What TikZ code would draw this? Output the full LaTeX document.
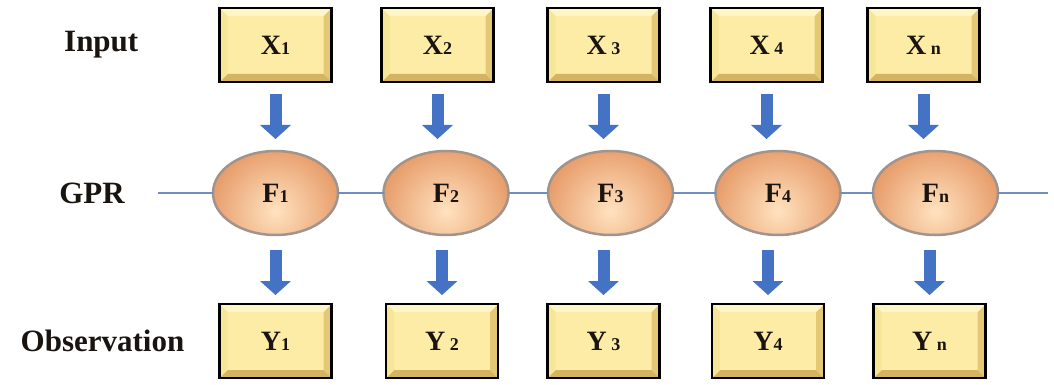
\documentclass[tikz,border=0pt]{standalone}
\usepackage{fontspec}
\setmainfont{Liberation Serif}
\usepackage{tikz}
\usetikzlibrary{shapes,arrows.meta,positioning}
\definecolor{boxyellow}{RGB}{252,236,166}
\definecolor{bevtop}{RGB}{255,246,200}
\definecolor{bevleft}{RGB}{247,229,152}
\definecolor{bevright}{RGB}{228,200,118}
\definecolor{bevlow}{RGB}{212,180,98}
\definecolor{peach}{RGB}{232,158,108}
\definecolor{peachlight}{RGB}{255,226,192}
\definecolor{rimgray}{RGB}{160,148,140}
\definecolor{arrowblue}{RGB}{68,114,196}
\definecolor{lineblue}{RGB}{112,142,192}
\definecolor{inktext}{RGB}{25,20,15}
\newcommand{\subi}[1]{{\fontsize{18}{18}\selectfont #1}}
\tikzset{block/.style = {draw, rectangle, line width = 2.5pt, fill = boxyellow, outer sep = 0pt,
           minimum width = 112pt, minimum height = 74pt, text = inktext,
           font = \fontsize{28}{28}\selectfont\bfseries,
           path picture = {
             \coordinate (bsw) at (path picture bounding box.south west);
             \coordinate (bse) at (path picture bounding box.south east);
             \coordinate (bnw) at (path picture bounding box.north west);
             \coordinate (bne) at (path picture bounding box.north east);
             \fill[bevlow] (bsw) -- (bse) -- ([shift={(-8pt,8pt)}]bse) -- ([shift={(8pt,8pt)}]bsw) -- cycle;
             \fill[bevright] (bse) -- (bne) -- ([shift={(-8pt,-8pt)}]bne) -- ([shift={(-8pt,8pt)}]bse) -- cycle;
             \fill[bevtop] (bne) -- (bnw) -- ([shift={(8pt,-8pt)}]bnw) -- ([shift={(-8pt,-8pt)}]bne) -- cycle;
             \fill[bevleft] (bnw) -- (bsw) -- ([shift={(8pt,8pt)}]bsw) -- ([shift={(8pt,-8pt)}]bnw) -- cycle;
           }},
         gp/.style = {ellipse, draw = rimgray, line width = 2.5pt, fill = peach, outer sep = 0pt,
           minimum width = 125pt, minimum height = 84pt, text = inktext,
           font = \fontsize{28}{28}\selectfont\bfseries,
           path picture = {
             \shade[inner color = peachlight, outer color = peach]
               ([yshift=-18pt]path picture bounding box.center) circle (64pt);
           }},
         rowname/.style = {inner sep = 0pt, text = inktext, font = \fontsize{31}{31}\selectfont\bfseries},
         downarrow/.style = {draw = arrowblue, line width = 12pt,
           -{Triangle[width = 31pt, length = 14pt, line width = 0pt]}},
         gprline/.style = {draw = lineblue, line width = 1.3pt},
}
\begin{document}
\begin{tikzpicture}[x = 1pt, y = -1pt]

  \useasboundingbox (0,0) rectangle (1054,385);

  % input row
  \node[block] (x1) at (275.5,45) {X\subi{1}};
  \node[block, right = 50pt of x1] (x2) {X\subi{2}};
  \node[block, right = 54pt of x2] (x3) {X\,\subi{3}};
  \node[block, right = 51pt of x3] (x4) {X\,\subi{4}};
  \node[block, right = 45pt of x4] (xn) {X\,\subi{n}};
  \node[rowname, left = 81pt of x1] (in) {Input};

  % gaussian process row
  \node[gp, below = 69pt of x1] (f1) {F\subi{1}};
  \node[gp, right = 45.5pt of f1] (f2) {F\subi{2}};
  \node[gp, right = 39.5pt of f2] (f3) {F\subi{3}};
  \node[gp, right = 42.5pt of f3] (f4) {F\subi{4}};
  \node[gp, right = 32.5pt of f4] (fn) {F\subi{n}};
  \node[rowname, left = 88pt of f1] (gpr) {GPR};
  \coordinate[left = 55pt of f1] (gstart);
  \coordinate[right = 50pt of fn] (gend);

  % observation row
  \node[block, below = 69pt of f1] (y1) {Y\subi{1}};
  \node[block, right = 54.5pt of y1] (y2) {Y\,\subi{2}};
  \node[block, right = 49.5pt of y2] (y3) {Y\,\subi{3}};
  \node[block, right = 52.5pt of y3] (y4) {Y\subi{4}};
  \node[block, right = 49.5pt of y4] (yn) {Y\,\subi{n}};
  \node[rowname, left = 35pt of y1] (obs) {Observation};

  \draw[gprline] (gstart) -- (f1) -- (f2) -- (f3) -- (f4) -- (fn) -- (gend);

  \draw[downarrow, shorten <= 12pt, shorten >= 12pt] (x1.south) -- (x1.south |- f1.north);
  \draw[downarrow, shorten <= 12pt, shorten >= 12pt] (x2.south) -- (x2.south |- f2.north);
  \draw[downarrow, shorten <= 12pt, shorten >= 12pt] (x3.south) -- (x3.south |- f3.north);
  \draw[downarrow, shorten <= 12pt, shorten >= 12pt] (x4.south) -- (x4.south |- f4.north);
  \draw[downarrow, shorten <= 12pt, shorten >= 12pt] (xn.south) -- (xn.south |- fn.north);

  \draw[downarrow, shorten <= 15pt, shorten >= 9pt] (y1.north |- f1.south) -- (y1.north);
  \draw[downarrow, shorten <= 15pt, shorten >= 9pt] (y2.north |- f2.south) -- (y2.north);
  \draw[downarrow, shorten <= 15pt, shorten >= 9pt] (y3.north |- f3.south) -- (y3.north);
  \draw[downarrow, shorten <= 15pt, shorten >= 9pt] (y4.north |- f4.south) -- (y4.north);
  \draw[downarrow, shorten <= 15pt, shorten >= 9pt] (yn.north |- fn.south) -- (yn.north);

\end{tikzpicture}
\end{document}
